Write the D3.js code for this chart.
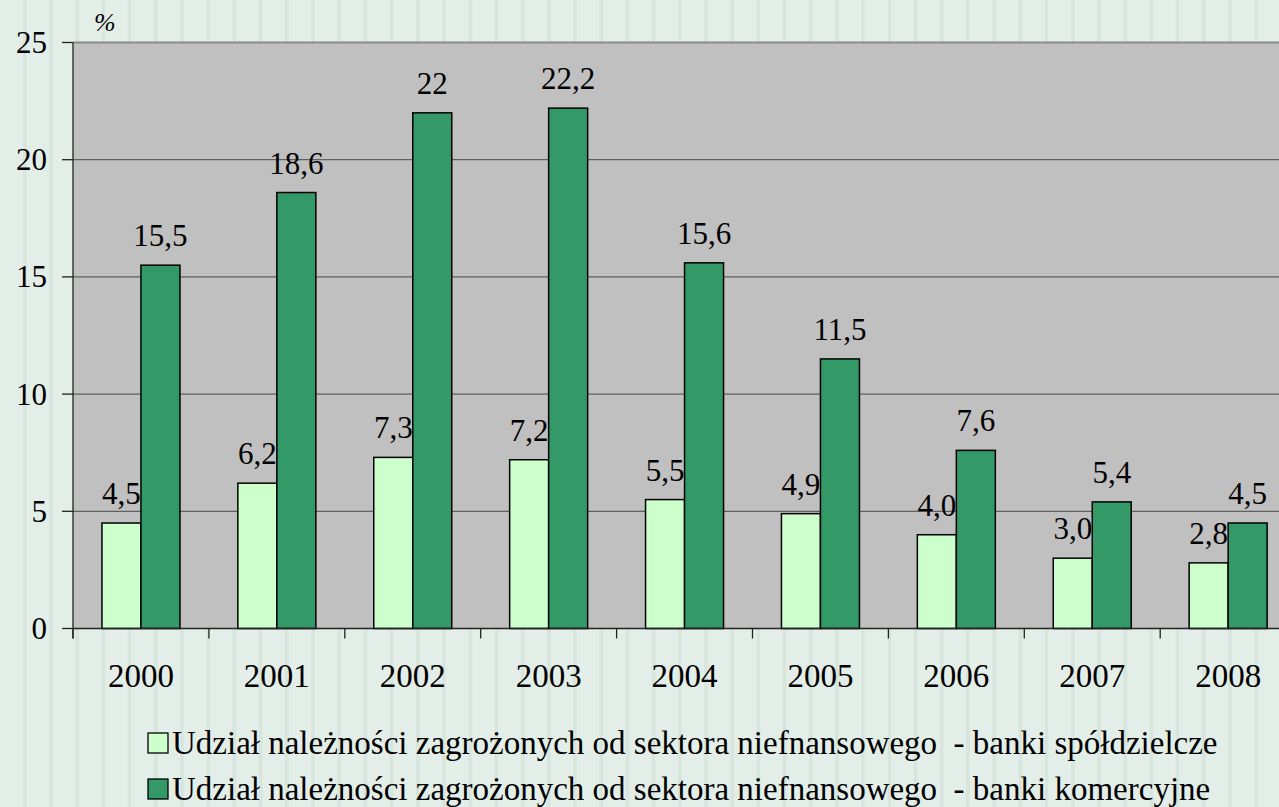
<!DOCTYPE html>
<html>
<head>
<meta charset="utf-8">
<script src="https://cdn.jsdelivr.net/npm/d3@7"></script>
</head>
<body style="margin:0">
<script>
var years = ['2000', '2001', '2002', '2003', '2004', '2005', '2006', '2007', '2008'];
var spoldzielcze = [4.5, 6.2, 7.3, 7.2, 5.5, 4.9, 4.0, 3.0, 2.8];
var komercyjne = [15.5, 18.6, 22, 22.2, 15.6, 11.5, 7.6, 5.4, 4.5];
var yTicks = [0, 5, 10, 15, 20, 25];
var seriesNames = [
    'Udział należności zagrożonych od sektora niefnansowego  - banki spółdzielcze',
    'Udział należności zagrożonych od sektora niefnansowego  - banki komercyjne'
];

var width = 1279,
    height = 807;
var plot = { left: 73, top: 42.5, bottom: 628.5, band: 135.9 };
var colors = ['#ccffcc', '#339966'];
var barW = 39;
var serif = '"Liberation Serif"';

var svg = d3.select('body').append('svg')
    .attr('width', width)
    .attr('height', height)
    .style('display', 'block');

// kazdy tekst dostaje czcionke osobno
var addText = function(sel, size) {
    return sel.append('text')
        .style('font-family', serif)
        .style('font-size', size + 'px');
};

// tlo w paski
var defs = svg.append('defs');
var pat = defs.append('pattern')
    .attr('id', 'stripes')
    .attr('patternUnits', 'userSpaceOnUse')
    .attr('x', 23)
    .attr('y', 0)
    .attr('width', 26.2)
    .attr('height', 10);
pat.append('rect').attr('width', 26.2).attr('height', 10).attr('fill', '#e3eee8');
pat.append('rect').attr('x', 0).attr('width', 3.5).attr('height', 10).attr('fill', '#d7e5dd');
svg.append('rect').attr('width', width).attr('height', height).attr('fill', 'url(#stripes)');

var x = d3.scaleBand()
    .domain(years)
    .range([plot.left, plot.left + years.length * plot.band]);

var y = d3.scaleLinear()
    .domain([0, 25])
    .range([plot.bottom, plot.top]);

// pole wykresu
svg.append('rect')
    .attr('x', plot.left)
    .attr('y', plot.top)
    .attr('width', width - plot.left)
    .attr('height', plot.bottom - plot.top)
    .attr('fill', '#c0c0c0');

svg.append('g').selectAll('line')
    .data(yTicks.filter(function(d) { return d > 0; }))
    .enter().append('line')
    .attr('x1', plot.left)
    .attr('x2', width)
    .attr('y1', function(d) { return y(d); })
    .attr('y2', function(d) { return y(d); })
    .attr('stroke', function(d) { return d === 25 ? '#8a8a8a' : '#606060'; })
    .attr('stroke-width', function(d) { return d === 25 ? 2 : 1.3; });

// slupki
var groups = svg.append('g').selectAll('g')
    .data(years)
    .enter().append('g')
    .attr('transform', function(d) { return 'translate(' + (x(d) + x.bandwidth() / 2) + ',0)'; });

groups.append('rect')
    .attr('x', -barW)
    .attr('y', function(d, i) { return y(spoldzielcze[i]); })
    .attr('width', barW)
    .attr('height', function(d, i) { return y(0) - y(spoldzielcze[i]); })
    .attr('fill', colors[0])
    .attr('stroke', '#000')
    .attr('stroke-width', 1.5);

groups.append('rect')
    .attr('x', 0)
    .attr('y', function(d, i) { return y(komercyjne[i]); })
    .attr('width', barW)
    .attr('height', function(d, i) { return y(0) - y(komercyjne[i]); })
    .attr('fill', colors[1])
    .attr('stroke', '#000')
    .attr('stroke-width', 1.5);

var fmt1 = function(v) { return d3.format('.1f')(v).replace('.', ','); };
var fmtG = function(v) { return String(v).replace('.', ','); };

addText(groups, 31)
    .attr('x', -barW / 2)
    .attr('y', function(d, i) { return y(spoldzielcze[i]) - 19; })
    .attr('text-anchor', 'middle')
    .text(function(d, i) { return fmt1(spoldzielcze[i]); });

addText(groups, 31)
    .attr('x', barW / 2)
    .attr('y', function(d, i) { return y(komercyjne[i]) - 19; })
    .attr('text-anchor', 'middle')
    .text(function(d, i) { return fmtG(komercyjne[i]); });

// osie
var axisY = svg.append('g');
axisY.append('line')
    .attr('x1', plot.left).attr('x2', plot.left)
    .attr('y1', plot.top).attr('y2', plot.bottom + 10)
    .attr('stroke', '#222').attr('stroke-width', 1.3);
axisY.selectAll('line.tick')
    .data(yTicks)
    .enter().append('line')
    .attr('class', 'tick')
    .attr('x1', plot.left - 11).attr('x2', plot.left)
    .attr('y1', function(d) { return y(d); })
    .attr('y2', function(d) { return y(d); })
    .attr('stroke', '#222').attr('stroke-width', 1.3);
var yLabels = axisY.selectAll('g.lab')
    .data(yTicks)
    .enter().append('g')
    .attr('class', 'lab');
addText(yLabels, 31)
    .attr('x', 47)
    .attr('y', function(d) { return y(d); })
    .attr('dy', '0.34em')
    .attr('text-anchor', 'end')
    .text(function(d) { return d; });

addText(svg, 26)
    .attr('x', 94)
    .attr('y', 31)
    .style('font-style', 'italic')
    .text('%');

var axisX = svg.append('g');
axisX.append('line')
    .attr('x1', plot.left).attr('x2', width)
    .attr('y1', plot.bottom).attr('y2', plot.bottom)
    .attr('stroke', '#222').attr('stroke-width', 1.5);
axisX.selectAll('line.tick')
    .data(years)
    .enter().append('line')
    .attr('class', 'tick')
    .attr('x1', function(d) { return x(d); })
    .attr('x2', function(d) { return x(d); })
    .attr('y1', plot.bottom)
    .attr('y2', plot.bottom + 10)
    .attr('stroke', '#222').attr('stroke-width', 1.3);
var xLabels = axisX.selectAll('g.lab')
    .data(years)
    .enter().append('g')
    .attr('class', 'lab');
addText(xLabels, 33)
    .attr('x', function(d) { return x(d) + x.bandwidth() / 2; })
    .attr('y', 687)
    .attr('text-anchor', 'middle')
    .text(function(d) { return d; });

// legenda
var legend = svg.append('g').selectAll('g')
    .data(seriesNames)
    .enter().append('g')
    .attr('transform', function(d, i) { return 'translate(148,' + (733 + i * 46) + ')'; });
legend.append('rect')
    .attr('width', 20)
    .attr('height', 20)
    .attr('fill', function(d, i) { return colors[i]; })
    .attr('stroke', '#000')
    .attr('stroke-width', 1.3);
addText(legend, 33)
    .attr('x', 24)
    .attr('y', 21)
    .style('white-space', 'pre')
    .text(function(d) { return d; });
</script>
</body>
</html>
